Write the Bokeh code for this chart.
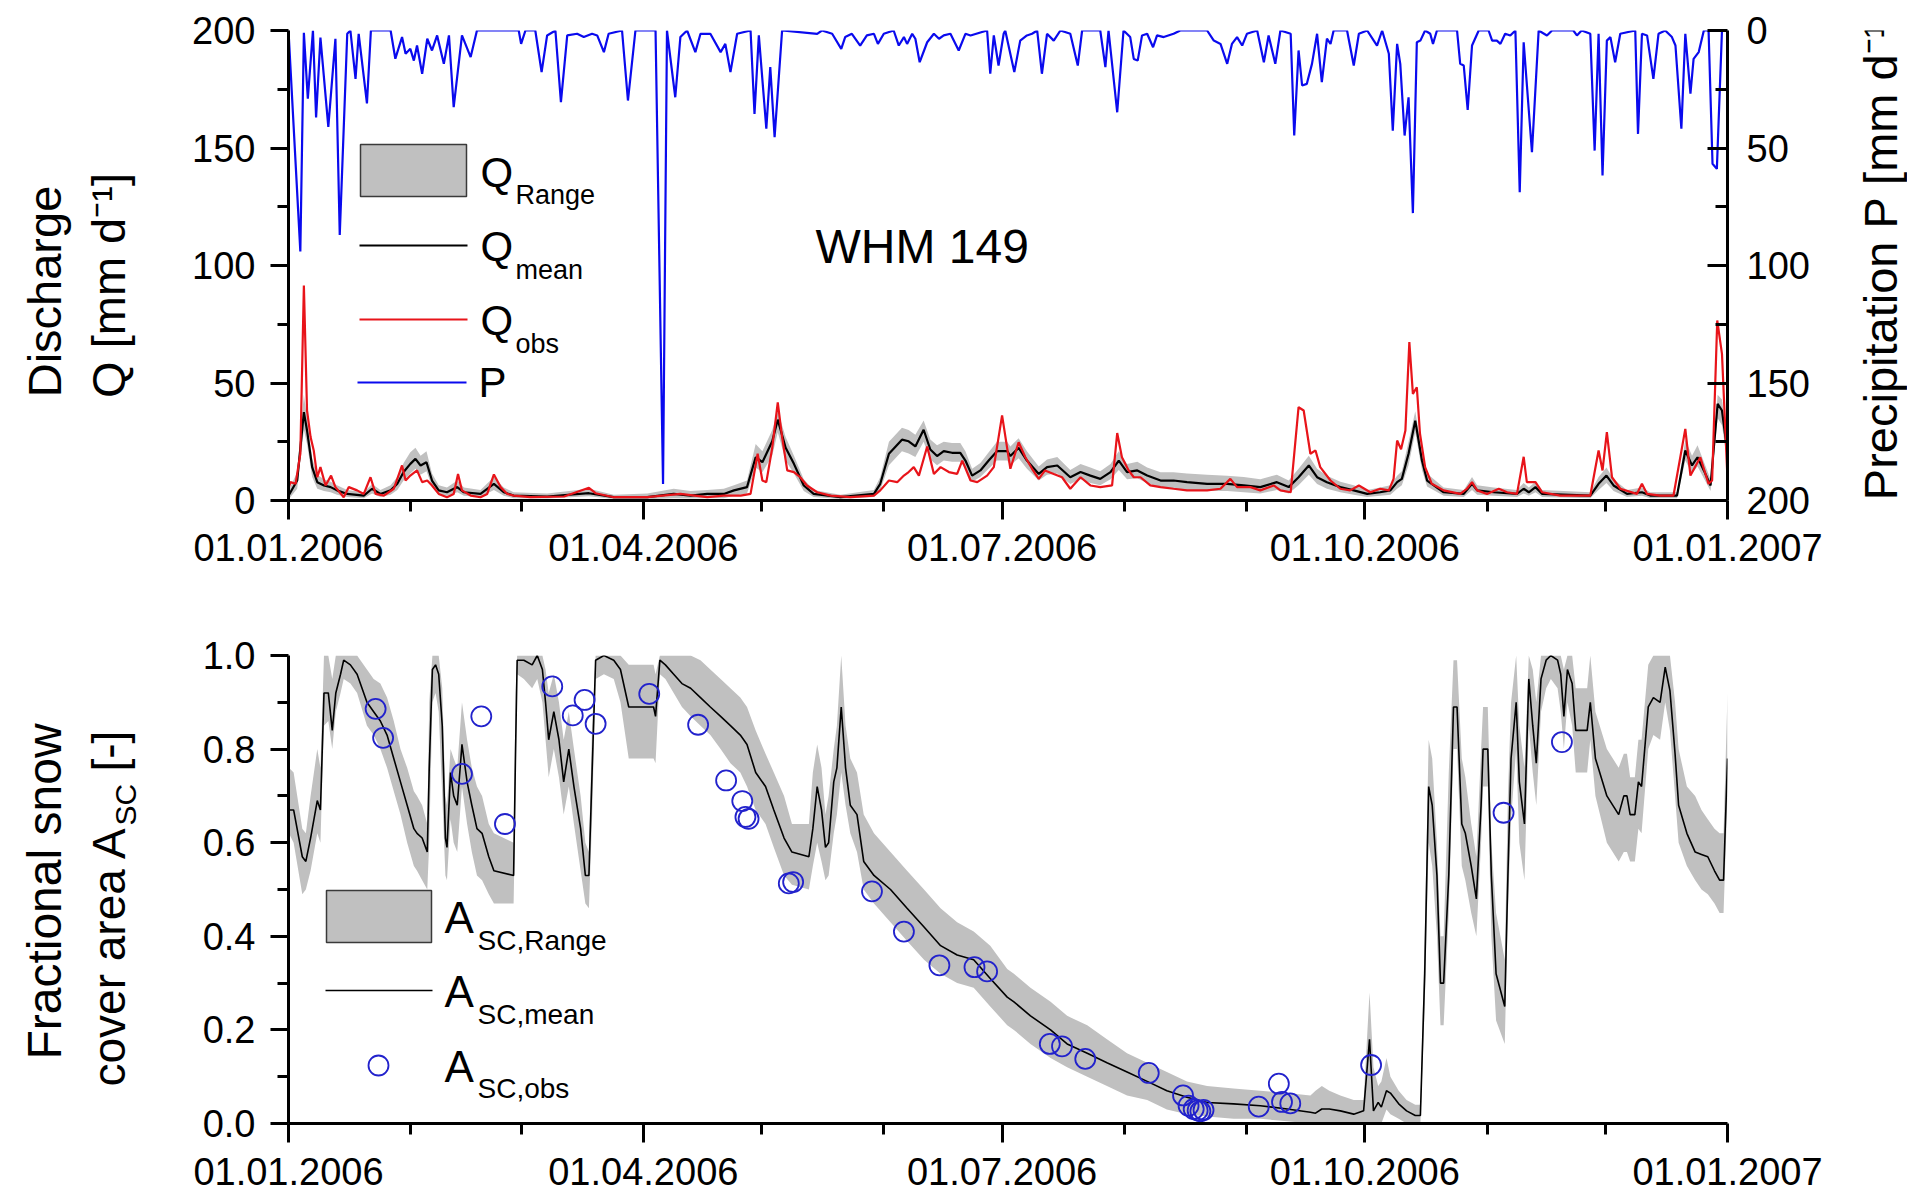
import math
from bokeh.plotting import figure
from bokeh.models import Range1d, LinearAxis, FixedTicker, Label, PrintfTickFormatter
from bokeh.layouts import column, row
from bokeh.embed import file_html
from bokeh.resources import INLINE

FONT = "Liberation Sans"

# ---------------- data (day of year 2006, 0 = 01.01.2006) ----------------
tick_days = [0, 90, 181, 273, 365]
tick_labels = ["01.01.2006", "01.04.2006", "01.07.2006", "01.10.2006", "01.01.2007"]
month_days = [31, 59, 120, 151, 212, 243, 304, 334]

# Precipitation P [mm/d]
p_days = [0.0, 3.0, 3.9, 4.9, 6.2, 7.0, 8.1, 10.1, 11.9, 13.0,
          14.9, 15.7, 17.0, 17.8, 19.9, 20.9, 25.9, 27.1, 28.8, 29.7,
          30.9, 31.8, 32.6, 33.9, 35.2, 36.4, 37.7, 39.4, 40.7, 41.9,
          44.0, 46.2, 47.8, 58.4, 59.0, 60.1, 62.6, 64.2, 65.6, 67.7,
          69.1, 70.7, 73.2, 74.9, 77.0, 78.3, 80.0, 81.2, 84.6, 86.1,
          88.0, 93.1, 95.0, 96.0, 98.1, 99.4, 101.1, 103.2, 104.5, 107.0,
          109.6, 110.8, 112.1, 113.8, 117.2, 118.2, 119.3, 121.2, 122.2, 123.3,
          125.2, 134.1, 135.3, 137.9, 140.2, 141.2, 142.9, 145.0, 146.7, 148.5,
          149.5, 151.0, 153.5, 154.8, 156.1, 156.9, 158.2, 159.0, 160.1, 162.0,
          163.7, 165.0, 166.2, 167.9, 170.0, 171.7, 173.0, 177.2, 178.0, 178.9,
          180.1, 181.4, 181.8, 184.1, 185.6, 187.3, 188.6, 189.9, 191.1, 192.4,
          194.1, 195.8, 198.3, 200.2, 201.3, 205.9, 207.2, 208.0, 210.2, 211.8,
          213.5, 214.4, 215.4, 216.5, 217.8, 219.3, 220.3, 222.0, 224.5, 226.2,
          233.0, 234.7, 236.4, 238.1, 239.3, 240.6, 241.9, 243.1, 245.7, 247.4,
          248.6, 250.3, 251.6, 254.2, 255.1, 256.2, 257.1, 258.3, 259.6, 260.9,
          262.1, 263.4, 264.3, 265.1, 268.5, 270.2, 271.5, 273.6, 276.1, 277.4,
          279.1, 280.1, 281.2, 282.0, 283.1, 284.1, 285.2, 286.2, 287.1, 288.3,
          289.6, 290.3, 291.3, 296.4, 297.2, 298.1, 299.1, 300.2, 301.9, 304.4,
          305.3, 306.5, 307.4, 308.6, 309.9, 311.2, 312.3, 313.3, 315.4, 317.1,
          319.2, 320.5, 325.9, 326.8, 328.0, 330.2, 331.3, 332.3, 333.3, 334.4,
          335.3, 336.5, 337.8, 341.6, 342.3, 343.3, 344.6, 346.2, 347.5, 349.2,
          350.9, 351.8, 353.3, 354.3, 355.6, 356.4, 357.7, 359.0, 360.2, 361.2,
          362.3, 363.6, 365.0]
p_vals = [0, 94, 1, 29, 0, 37, 3, 41, 3.5, 87,
          1.4, 0, 20.6, 1.4, 31, 0, 0, 12, 2.8, 9.9,
          7.8, 12.8, 6.4, 18.4, 3.5, 8.5, 2.1, 14.2, 2.1, 32.6,
          2.1, 11.3, 0, 0, 5.7, 0, 0, 17.7, 2.1, 0,
          30.5, 2.1, 1.4, 2.8, 1.4, 2.1, 9.2, 1.4, 0, 29.8,
          0, 0, 193, 0, 28.4, 2.8, 0, 9.2, 1.4, 1.4,
          9.2, 5.7, 17.7, 1.4, 0, 35.5, 2.1, 41.8, 15.6, 45.4,
          0, 1.4, 0, 1.4, 7.8, 2.8, 1.4, 6.4, 2.1, 1.4,
          5.7, 1.4, 0, 6.4, 2.8, 5.7, 1.4, 3.5, 13.5, 5.0,
          1.4, 3.5, 2.1, 1.4, 8.5, 1.4, 2.1, 0, 18.4, 2.1,
          14.9, 1.4, 0, 17.7, 4.3, 2.1, 1.4, 0, 18.4, 1.4,
          4.3, 0, 1.4, 14.9, 0, 0, 15.6, 0, 34.8, 0,
          2.8, 12.1, 12.8, 2.1, 1.4, 7.1, 2.1, 2.8, 1.4, 0,
          0, 4.3, 5.7, 14.2, 5.7, 2.8, 6.4, 1.4, 0, 13.5,
          2.1, 14.2, 0, 1.4, 44.7, 8.5, 23.4, 22.7, 14.2, 1.4,
          22.0, 3.5, 5.7, 0, 0, 14.9, 1.4, 0, 6.4, 0,
          9.9, 42.6, 5.7, 14.2, 44.7, 28.4, 77.7, 5.0, 4.3, 0,
          1.4, 5.7, 0, 0, 14.2, 14.9, 33.8, 6.4, 0, 0,
          4.3, 4.3, 5.7, 1.4, 2.1, 0, 68.8, 5.0, 51.8, 0,
          2.1, 0, 0, 2.1, 0, 1.4, 51.1, 1.4, 61.7, 4.3,
          2.8, 13.5, 1.4, 0, 44.0, 1.4, 2.1, 20.6, 1.4, 0,
          2.8, 6.4, 41.8, 1.4, 26.9, 12.1, 9.2, 0, 0, 56.7,
          58.9, 0, 0]

# Simulated discharge: mean and range [mm/d]
q_days = [0.0, 0.5, 2.2, 3.9, 4.7, 6.0, 7.3, 9.0, 10.7, 12.3,
          14.9, 19.1, 21.2, 23.3, 25.9, 27.6, 29.2, 30.9, 32.2, 33.5,
          35.0, 36.4, 38.1, 40.2, 42.8, 44.5, 48.7, 52.1, 54.6, 57.1,
          65.6, 76.2, 82.5, 91.0, 97.7, 102.0, 106.2, 110.4, 113.0, 116.3,
          118.5, 120.2, 122.7, 124.1, 126.1, 128.2, 130.7, 133.2, 140.0, 148.5,
          150.1, 152.3, 155.6, 157.3, 159.0, 161.1, 162.8, 164.5, 166.2, 168.3,
          170.4, 171.7, 173.4, 175.5, 177.6, 179.7, 182.3, 183.1, 185.2, 187.3,
          190.3, 192.4, 195.0, 198.3, 200.9, 203.4, 205.9, 208.5, 210.6, 212.7,
          215.3, 217.8, 221.2, 224.5, 227.9, 233.0, 238.1, 242.3, 246.5, 250.7,
          253.7, 256.2, 258.8, 260.9, 263.4, 266.8, 270.2, 273.6, 276.9, 279.5,
          281.2, 282.4, 284.1, 285.8, 287.5, 288.8, 293.0, 298.1, 300.2, 301.5,
          305.7, 311.6, 313.3, 314.6, 316.3, 318.0, 330.2, 332.3, 334.3, 336.1,
          339.5, 343.3, 345.4, 352.2, 354.3, 356.0, 357.4, 359.0, 360.7, 362.5,
          363.6, 364.9]
q_mean = [2.0, 3.5, 8.5, 37.6, 29.8, 14.2, 7.8, 6.4, 5.7, 4.3,
          2.8, 2.1, 5.0, 2.8, 4.3, 7.1, 12.1, 15.6, 17.7, 14.9,
          16.3, 8.5, 4.3, 3.5, 5.7, 3.5, 2.8, 7.1, 3.5, 2.1,
          1.7, 3.1, 1.4, 1.4, 2.8, 2.1, 2.8, 2.8, 4.3, 5.7,
          18.4, 16.3, 25.2, 34.4, 22.4, 15.6, 6.4, 2.8, 1.4, 2.8,
          7.1, 19.9, 25.9, 25.2, 23.0, 30.1, 21.7, 18.9, 21.0, 20.3,
          20.3, 17.0, 10.6, 12.8, 17.0, 21.0, 21.0, 18.9, 22.4, 17.0,
          11.3, 14.2, 14.9, 9.9, 12.1, 10.6, 9.2, 12.1, 17.0, 12.1,
          12.8, 10.6, 8.5, 8.5, 7.8, 7.1, 7.1, 6.4, 5.7, 7.8,
          5.7, 9.9, 14.9, 9.9, 7.8, 5.7, 4.3, 2.8, 3.5, 4.3,
          7.8, 9.2, 19.9, 34.0, 17.0, 8.5, 3.5, 2.8, 7.1, 4.3,
          3.5, 2.8, 5.0, 3.5, 5.7, 2.8, 2.1, 7.1, 10.6, 6.4,
          2.8, 3.5, 2.1, 2.1, 21.3, 14.9, 18.4, 12.8, 6.4, 41.1,
          38.3, 21.3]
q_lo = [0.5, 1.5, 5.0, 30.0, 24.0, 10.0, 5.0, 4.0, 3.5, 2.5,
        1.5, 1.0, 3.0, 1.5, 2.5, 4.5, 8.5, 11.5, 13.5, 11.0,
        12.5, 6.0, 2.5, 2.0, 3.5, 2.0, 1.5, 4.5, 2.0, 1.0,
        0.8, 1.8, 0.6, 0.5, 1.0, 0.8, 1.0, 1.0, 2.0, 3.0,
        14.0, 12.0, 19.0, 29.0, 17.0, 11.5, 4.0, 1.5, 0.6, 1.5,
        4.5, 15.0, 21.0, 20.0, 18.5, 25.0, 17.5, 15.0, 17.0, 16.5,
        16.5, 13.5, 8.0, 10.0, 13.5, 17.0, 17.0, 15.0, 18.0, 13.5,
        8.5, 11.0, 11.5, 7.0, 9.0, 7.5, 6.5, 9.0, 13.0, 9.0,
        9.5, 7.5, 5.5, 5.0, 4.5, 4.0, 4.0, 3.5, 3.0, 4.5,
        3.0, 6.5, 11.0, 7.0, 5.0, 3.5, 2.5, 1.5, 2.0, 2.5,
        5.0, 6.5, 15.0, 29.0, 13.0, 6.0, 2.0, 1.5, 4.5, 2.5,
        2.0, 1.5, 3.0, 2.0, 3.5, 1.5, 1.0, 4.5, 7.5, 4.0,
        1.5, 2.0, 1.0, 1.0, 17.0, 11.5, 14.5, 9.5, 4.0, 35.0,
        32.0, 17.0]
q_hi = [4.0, 6.0, 12.0, 45.0, 35.0, 18.0, 11.0, 9.0, 8.0, 6.5,
        4.5, 3.5, 7.0, 4.5, 6.5, 10.0, 16.0, 20.5, 22.5, 19.0,
        21.0, 11.5, 6.5, 5.5, 8.5, 5.5, 4.5, 10.0, 5.5, 3.5,
        3.0, 5.0, 2.5, 3.0, 5.0, 4.0, 4.5, 5.0, 6.5, 8.5,
        24.0, 21.0, 30.0, 38.0, 27.0, 19.0, 9.0, 4.5, 2.5, 4.5,
        10.0, 25.0, 31.0, 30.0, 28.0, 34.0, 26.0, 23.5, 25.0, 24.5,
        24.5, 21.0, 13.5, 16.0, 20.5, 25.0, 25.0, 23.0, 26.5, 21.0,
        14.5, 17.5, 18.5, 13.0, 15.5, 14.0, 12.5, 15.5, 21.0, 15.5,
        16.5, 14.0, 12.0, 12.0, 11.5, 11.0, 10.5, 10.0, 9.0, 11.0,
        8.5, 13.5, 19.0, 13.5, 10.5, 8.0, 6.5, 4.5, 5.5, 6.5,
        10.5, 12.5, 25.0, 38.0, 21.0, 11.5, 5.5, 4.5, 10.0, 6.5,
        5.5, 4.5, 7.5, 5.5, 8.0, 4.5, 3.5, 10.0, 14.0, 9.0,
        4.5, 5.5, 3.5, 3.5, 26.0, 19.0, 23.5, 16.5, 9.0, 45.0,
        43.0, 26.0]

# Observed discharge [mm/d]
qobs_days = [0.0, 0.5, 1.8, 3.0, 3.9, 4.7, 5.6, 6.4, 7.3, 8.1,
             9.4, 10.8, 11.9, 14.0, 15.3, 17.4, 19.1, 20.8, 22.1, 24.2,
             26.7, 28.8, 29.7, 30.9, 32.6, 33.9, 35.2, 36.4, 38.1, 40.2,
             41.9, 43.0, 44.0, 46.2, 48.7, 50.4, 52.1, 53.8, 55.5, 57.1,
             61.4, 69.9, 76.2, 77.9, 82.5, 91.0, 99.4, 106.2, 110.4, 114.7,
             117.2, 119.0, 120.2, 121.2, 122.7, 124.1, 125.2, 126.5, 128.2, 129.8,
             131.5, 134.1, 137.5, 142.5, 148.5, 150.1, 152.3, 154.4, 156.1, 157.3,
             158.6, 159.9, 162.0, 163.7, 165.4, 167.5, 169.6, 170.9, 173.0, 174.7,
             177.2, 178.9, 181.0, 183.1, 185.2, 186.9, 188.6, 190.3, 191.9, 194.1,
             196.2, 198.3, 200.9, 203.4, 205.9, 208.9, 210.2, 211.4, 213.1, 214.4,
             216.1, 218.6, 221.2, 224.5, 227.9, 233.0, 236.4, 238.9, 240.6, 244.0,
             246.5, 249.9, 251.6, 254.2, 256.2, 257.5, 259.2, 260.5, 261.7, 264.3,
             266.8, 269.3, 271.5, 274.4, 276.9, 279.1, 280.3, 281.2, 282.2, 283.3,
             284.3, 285.2, 286.2, 287.0, 288.3, 290.0, 293.0, 297.2, 298.9, 300.2,
             301.5, 304.0, 307.0, 309.1, 311.6, 313.3, 314.1, 316.3, 318.0, 322.6,
             330.2, 332.3, 333.3, 334.4, 335.7, 337.8, 342.0, 343.3, 344.6, 347.9,
             351.3, 354.3, 355.6, 358.1, 360.2, 361.1, 362.4, 363.6, 364.9]
qobs = [5.0, 7.8, 7.1, 19.9, 91.5, 38.3, 27.0, 21.3, 9.9, 14.2,
        6.4, 10.6, 5.7, 1.4, 5.7, 4.3, 2.8, 9.9, 2.8, 2.1,
        5.0, 14.9, 8.5, 10.6, 12.8, 7.8, 8.5, 6.4, 2.8, 1.4,
        2.8, 11.3, 4.3, 2.1, 1.4, 2.8, 11.1, 5.7, 2.8, 2.1,
        1.4, 1.7, 5.4, 3.1, 1.4, 1.4, 2.8, 1.4, 2.1, 2.1,
        2.8, 19.9, 8.5, 7.8, 22.4, 41.8, 27.0, 12.8, 12.1, 9.9,
        6.4, 3.5, 2.1, 1.4, 2.1, 4.3, 8.5, 7.8, 10.6, 12.1,
        14.2, 10.6, 23.0, 11.3, 14.2, 12.1, 11.3, 17.0, 8.5, 7.8,
        10.6, 14.2, 36.2, 13.5, 24.8, 18.4, 13.5, 9.2, 12.8, 11.3,
        9.9, 5.0, 9.9, 6.4, 5.7, 6.4, 28.7, 18.4, 12.8, 9.9,
        9.9, 6.4, 5.7, 5.0, 4.3, 4.3, 5.0, 9.2, 5.7, 5.7,
        4.3, 6.4, 4.3, 3.5, 39.7, 38.3, 19.9, 21.3, 14.2, 8.5,
        5.0, 4.3, 6.4, 3.5, 5.0, 4.3, 9.2, 25.5, 21.8, 29.8,
        67.4, 45.4, 48.2, 28.4, 14.2, 7.1, 4.3, 2.8, 5.0, 7.8,
        4.3, 2.8, 5.0, 3.5, 2.8, 18.6, 7.8, 7.8, 3.5, 2.1,
        2.1, 21.3, 12.8, 29.1, 9.9, 5.0, 2.8, 7.1, 2.8, 2.1,
        2.1, 30.5, 10.6, 18.4, 7.1, 8.5, 76.6, 62.4, 12.8]

# Fractional snow cover area: simulated mean and range [-]
a_days = [0.1, 1.3, 3.5, 4.4, 5.6, 7.3, 8.1, 9.0, 10.1, 11.1,
          12.0, 13.2, 14.0, 15.7, 17.4, 19.9, 21.6, 23.3, 25.0, 26.7,
          28.4, 30.1, 31.8, 32.6, 33.9, 35.2, 35.7, 36.5, 37.3, 38.1,
          39.0, 39.8, 40.2, 41.1, 41.9, 42.8, 44.0, 45.3, 46.5, 47.8,
          49.1, 50.8, 52.1, 57.1, 57.6, 58.0, 59.7, 61.8, 63.1, 64.4,
          65.2, 66.0, 67.3, 68.6, 69.8, 71.1, 72.4, 74.1, 75.3, 76.2,
          77.0, 77.9, 80.0, 82.5, 84.2, 86.3, 91.0, 92.6, 93.1, 94.2,
          95.6, 97.7, 99.8, 102.0, 104.5, 107.0, 109.6, 112.1, 114.6, 116.3,
          118.5, 121.0, 123.1, 125.7, 127.7, 132.0, 133.0, 134.1, 135.2, 136.2,
          137.0, 138.3, 139.1, 140.2, 141.3, 142.5, 144.2, 145.9, 148.5, 152.7,
          156.9, 161.2, 165.4, 169.6, 173.8, 178.0, 182.3, 184.0, 188.2, 193.3,
          197.5, 202.6, 207.6, 212.7, 217.8, 222.8, 227.9, 233.0, 239.7, 246.5,
          253.3, 259.2, 260.5, 262.1, 264.0, 266.8, 270.2, 272.7, 274.2, 275.2,
          276.4, 277.2, 278.5, 279.5, 281.6, 283.6, 285.8, 287.1, 288.2, 289.2,
          290.1, 291.3, 292.2, 293.0, 294.3, 295.5, 296.4, 297.6, 298.5, 300.0,
          301.3, 302.5, 303.0, 304.2, 305.1, 306.3, 308.5, 309.3, 310.1, 311.4,
          312.2, 313.5, 314.6, 315.6, 316.5, 317.7, 319.0, 320.2, 321.9, 322.7,
          323.5, 324.4, 325.6, 326.5, 329.4, 330.2, 331.5, 334.4, 337.4, 338.7,
          339.5, 340.3, 341.5, 342.4, 343.2, 344.9, 346.2, 347.9, 349.2, 350.4,
          351.7, 352.6, 354.7, 356.8, 358.4, 360.0, 361.7, 363.0, 364.0, 365.0]
a_mean = [0.67, 0.67, 0.57, 0.56, 0.61, 0.69, 0.67, 0.92, 0.92, 0.84,
          0.92, 0.96, 0.99, 0.98, 0.96, 0.90, 0.88, 0.86, 0.83, 0.78,
          0.73, 0.68, 0.63, 0.62, 0.61, 0.58, 0.76, 0.97, 0.98, 0.96,
          0.85, 0.61, 0.59, 0.75, 0.70, 0.68, 0.81, 0.73, 0.68, 0.63,
          0.62, 0.57, 0.54, 0.53, 0.80, 0.99, 0.99, 0.98, 1.00, 0.97,
          0.90, 0.82, 0.88, 0.82, 0.73, 0.80, 0.72, 0.63, 0.53, 0.53,
          0.75, 0.99, 1.00, 0.99, 0.97, 0.89, 0.89, 0.89, 0.87, 0.99,
          0.98, 0.96, 0.94, 0.93, 0.91, 0.89, 0.87, 0.85, 0.83, 0.81,
          0.75, 0.72, 0.67, 0.61, 0.58, 0.57, 0.63, 0.72, 0.67, 0.59,
          0.60, 0.73, 0.76, 0.89, 0.76, 0.68, 0.66, 0.56, 0.53, 0.50,
          0.46, 0.42, 0.38, 0.36, 0.35, 0.31, 0.27, 0.26, 0.23, 0.20,
          0.17, 0.15, 0.13, 0.11, 0.09, 0.07, 0.056, 0.045, 0.042, 0.038,
          0.031, 0.024, 0.022, 0.031, 0.031, 0.027, 0.020, 0.027, 0.18, 0.027,
          0.045, 0.035, 0.070, 0.065, 0.042, 0.027, 0.017, 0.017, 0.32, 0.72,
          0.68, 0.53, 0.30, 0.30, 0.53, 0.89, 0.89, 0.64, 0.62, 0.55,
          0.48, 0.68, 0.80, 0.80, 0.53, 0.32, 0.25, 0.53, 0.78, 0.90,
          0.73, 0.64, 0.95, 0.85, 0.77, 0.95, 0.99, 1.00, 0.99, 0.96,
          0.87, 0.97, 0.94, 0.84, 0.84, 0.90, 0.78, 0.70, 0.66, 0.70,
          0.70, 0.66, 0.66, 0.73, 0.72, 0.89, 0.91, 0.90, 0.975, 0.925,
          0.79, 0.68, 0.62, 0.58, 0.575, 0.57, 0.54, 0.52, 0.52, 0.78]
a_lo = [0.62, 0.60, 0.49, 0.50, 0.54, 0.62, 0.60, 0.85, 0.86, 0.80,
        0.88, 0.92, 0.95, 0.94, 0.92, 0.85, 0.83, 0.80, 0.76, 0.71,
        0.66, 0.60, 0.55, 0.54, 0.52, 0.50, 0.60, 0.90, 0.92, 0.88,
        0.70, 0.53, 0.52, 0.65, 0.60, 0.58, 0.72, 0.64, 0.58, 0.53,
        0.52, 0.49, 0.47, 0.47, 0.70, 0.96, 0.95, 0.93, 0.95, 0.90,
        0.82, 0.74, 0.80, 0.74, 0.66, 0.72, 0.64, 0.54, 0.47, 0.46,
        0.65, 0.95, 0.96, 0.95, 0.90, 0.78, 0.78, 0.78, 0.77, 0.96,
        0.95, 0.92, 0.89, 0.87, 0.85, 0.83, 0.80, 0.77, 0.75, 0.72,
        0.67, 0.64, 0.59, 0.53, 0.51, 0.50, 0.55, 0.60, 0.56, 0.52,
        0.53, 0.62, 0.66, 0.75, 0.68, 0.62, 0.58, 0.50, 0.47, 0.43,
        0.39, 0.35, 0.32, 0.30, 0.29, 0.25, 0.21, 0.20, 0.17, 0.14,
        0.12, 0.10, 0.08, 0.06, 0.05, 0.03, 0.02, 0.015, 0.01, 0.01,
        0.005, 0.0, 0.0, 0.0, 0.0, 0.0, 0.0, 0.0, 0.0, 0.0,
        0.0, 0.0, 0.03, 0.02, 0.01, 0.0, 0.0, 0.0, 0.25, 0.60,
        0.55, 0.40, 0.21, 0.21, 0.45, 0.80, 0.80, 0.55, 0.52, 0.45,
        0.40, 0.60, 0.72, 0.72, 0.40, 0.22, 0.17, 0.45, 0.65, 0.80,
        0.60, 0.52, 0.85, 0.75, 0.68, 0.88, 0.93, 0.95, 0.93, 0.88,
        0.80, 0.90, 0.85, 0.75, 0.75, 0.82, 0.70, 0.60, 0.56, 0.58,
        0.58, 0.56, 0.56, 0.63, 0.62, 0.80, 0.83, 0.82, 0.90, 0.84,
        0.70, 0.60, 0.55, 0.52, 0.50, 0.49, 0.47, 0.45, 0.45, 0.70]
a_hi = [0.76, 0.75, 0.63, 0.62, 0.70, 0.80, 0.76, 1.0, 1.0, 0.95,
        1.0, 1.0, 1.0, 1.0, 1.0, 0.97, 0.95, 0.94, 0.91, 0.86,
        0.80, 0.76, 0.71, 0.70, 0.68, 0.64, 0.90, 1.0, 1.0, 1.0,
        0.93, 0.70, 0.68, 0.80, 0.78, 0.76, 0.90, 0.82, 0.76, 0.72,
        0.70, 0.64, 0.62, 0.60, 0.92, 1.0, 1.0, 1.0, 1.0, 1.0,
        0.97, 0.92, 0.96, 0.90, 0.82, 0.88, 0.80, 0.70, 0.60, 0.58,
        0.85, 1.0, 1.0, 1.0, 1.0, 0.98, 0.98, 0.98, 0.96, 1.0,
        1.0, 1.0, 1.0, 1.0, 0.99, 0.97, 0.95, 0.93, 0.91, 0.89,
        0.84, 0.79, 0.75, 0.70, 0.64, 0.64, 0.75, 0.81, 0.76, 0.66,
        0.70, 0.80, 0.85, 1.0, 0.85, 0.78, 0.75, 0.66, 0.62, 0.58,
        0.54, 0.50, 0.46, 0.43, 0.41, 0.38, 0.33, 0.32, 0.29, 0.26,
        0.23, 0.21, 0.18, 0.15, 0.13, 0.11, 0.09, 0.08, 0.075, 0.07,
        0.065, 0.06, 0.07, 0.08, 0.07, 0.06, 0.05, 0.05, 0.28, 0.12,
        0.08, 0.09, 0.14, 0.10, 0.07, 0.05, 0.04, 0.04, 0.40, 0.82,
        0.78, 0.60, 0.40, 0.40, 0.75, 0.99, 0.99, 0.78, 0.74, 0.64,
        0.57, 0.80, 0.89, 0.89, 0.60, 0.45, 0.35, 0.70, 0.90, 1.0,
        0.85, 0.76, 1.0, 0.97, 0.90, 1.0, 1.0, 1.0, 1.0, 1.0,
        0.97, 1.0, 1.0, 0.93, 0.93, 1.0, 0.88, 0.80, 0.76, 0.79,
        0.79, 0.74, 0.74, 0.82, 0.82, 0.98, 1.0, 1.0, 1.0, 1.0,
        0.90, 0.80, 0.72, 0.70, 0.67, 0.65, 0.63, 0.62, 0.62, 0.92]

# Observed fractional snow cover [-]
aobs_days = [22.1, 24.0, 44.0, 48.9, 54.9, 66.9, 72.1, 75.1, 77.9, 91.5,
             103.9, 111.0, 115.1, 115.9, 116.7, 126.9, 128.0, 148.0, 156.1, 165.1,
             174.0, 177.2, 193.1, 196.2, 202.1, 218.2, 226.9, 228.3, 229.6, 230.6,
             231.3, 232.1, 246.1, 251.2, 252.0, 254.1, 274.6, 308.2, 323.0]
aobs = [0.886, 0.824, 0.747, 0.870, 0.640, 0.934, 0.872, 0.905, 0.854, 0.918,
        0.852, 0.733, 0.689, 0.655, 0.651, 0.513, 0.516, 0.496, 0.410, 0.338,
        0.334, 0.325, 0.170, 0.165, 0.138, 0.108, 0.060, 0.038, 0.031, 0.028,
        0.026, 0.029, 0.036, 0.085, 0.046, 0.043, 0.125, 0.664, 0.815]

# ---------------- styling ----------------
BLUE = "#0a0aee"
RED = "#e8141a"
GRAY = "#c0c0c0"
CIRC = "#2222cc"
TICK_FS = "38px"
AX_W = 3
LEFT_W = 150     # width of the left title strip
RIGHT_W = 60     # width of the right title strip (top row)


def style_axis(ax, out_major, out_minor, in_major=0, in_minor=0, standoff=12):
    ax.axis_line_width = AX_W
    ax.axis_line_color = "black"
    ax.major_tick_line_width = AX_W
    ax.minor_tick_line_width = AX_W
    ax.major_tick_out = out_major
    ax.minor_tick_out = out_minor
    ax.major_tick_in = in_major
    ax.minor_tick_in = in_minor
    ax.major_label_text_font = FONT
    ax.major_label_text_font_size = TICK_FS
    ax.major_label_text_color = "black"
    ax.major_label_standoff = standoff


def xaxis_setup(p, standoff):
    ax = p.xaxis[0]
    ax.ticker = FixedTicker(ticks=tick_days, minor_ticks=month_days)
    ax.major_label_overrides = {d: s for d, s in zip(tick_days, tick_labels)}
    style_axis(ax, 19, 11, standoff=standoff)


def txt(p, x, y, s, size, angle=0.0, align="left", rng=True):
    kw = dict(x_range_name="px", y_range_name="py") if rng else {}
    p.add_layout(Label(x=x, y=y, text=s, text_font=FONT, text_font_size=size,
                       text_color="black", text_align=align, text_baseline="middle",
                       angle=angle, **kw))


def strip(width, height, x0, fy_top, fy_bot):
    """Blank figure for axis titles; its frame is aligned with the neighbouring
    plot frame (fy_top..fy_bot in page pixels), so data units equal page pixels."""
    f = figure(width=width, height=height, x_range=Range1d(x0, x0 + width),
               y_range=Range1d(fy_bot, fy_top), output_backend="svg",
               toolbar_location=None, x_axis_location=None, y_axis_location=None,
               min_border=0, min_border_left=0, min_border_right=0,
               min_border_top=0, min_border_bottom=0)
    f.outline_line_color = None
    f.grid.visible = False
    f.background_fill_color = "white"
    f.border_fill_color = "white"
    return f


VERT = math.pi / 2

# ---------------- top panel: discharge and precipitation ----------------
p1 = figure(width=1907 - LEFT_W - RIGHT_W, height=600, x_range=Range1d(0, 365),
            y_range=Range1d(0, 200), output_backend="svg", toolbar_location=None,
            min_border_left=288 - LEFT_W, min_border_right=1907 - RIGHT_W - 1727,
            min_border_top=30, min_border_bottom=100)
p1.outline_line_color = None
p1.grid.visible = False
p1.background_fill_color = "white"
p1.border_fill_color = "white"
p1.extra_x_ranges = {"px": Range1d(288, 1727)}
p1.extra_y_ranges = {"p": Range1d(200, 0), "py": Range1d(500, 30)}

xaxis_setup(p1, 14)
ly = p1.yaxis[0]
ly.ticker = FixedTicker(ticks=[0, 50, 100, 150, 200], minor_ticks=[25, 75, 125, 175])
style_axis(ly, 18, 11, standoff=15)

ry = LinearAxis(y_range_name="p",
                ticker=FixedTicker(ticks=[0, 50, 100, 150, 200], minor_ticks=[25, 75, 125, 175]))
style_axis(ry, 0, 0, in_major=20, in_minor=12, standoff=19)
p1.add_layout(ry, "right")

p1.varea(x=q_days, y1=q_lo, y2=q_hi, fill_color=GRAY, fill_alpha=1.0)
p1.line(q_days, q_mean, line_color="black", line_width=2.2)
p1.line(qobs_days, qobs, line_color=RED, line_width=2.2)
p1.line(p_days, p_vals, line_color=BLUE, line_width=2.2, y_range_name="p")

# legend (pixel layout)
p1.quad(left=[360], right=[466], top=[144], bottom=[196], fill_color=GRAY,
        line_color="#3a3a3a", line_width=1.5, x_range_name="px", y_range_name="py")
p1.line([359, 467], [245, 245], line_color="black", line_width=2.2, x_range_name="px", y_range_name="py")
p1.line([359, 467], [319, 319], line_color=RED, line_width=2.2, x_range_name="px", y_range_name="py")
p1.line([357, 466], [382, 382], line_color=BLUE, line_width=2.2, x_range_name="px", y_range_name="py")
txt(p1, 480, 172, "Q", "42px")
txt(p1, 515, 194, "Range", "27px")
txt(p1, 480, 246, "Q", "42px")
txt(p1, 515, 269, "mean", "27px")
txt(p1, 480, 320, "Q", "42px")
txt(p1, 515, 343, "obs", "27px")
txt(p1, 478, 382, "P", "42px")
txt(p1, 815, 246, "WHM 149", "48px")

# axis titles (side strips; frame spans page y 30..500 like p1)
l1 = strip(LEFT_W, 600, 0, 30, 500)
txt(l1, 44, 291, "Discharge", "47px", angle=VERT, align="center", rng=False)
txt(l1, 108, 285, "Q [mm d\u207b\u00b9]", "47px", angle=VERT, align="center", rng=False)
r1 = strip(RIGHT_W, 600, 1907 - RIGHT_W, 30, 500)
txt(r1, 1880, 254, "Precipitation P [mm d\u207b\u00b9]", "47px", angle=VERT, align="center", rng=False)

# ---------------- bottom panel: snow cover ----------------
p2 = figure(width=1907 - LEFT_W, height=597, x_range=Range1d(0, 365), y_range=Range1d(0, 1),
            output_backend="svg", toolbar_location=None,
            min_border_left=288 - LEFT_W, min_border_right=180,
            min_border_top=55, min_border_bottom=74)
p2.outline_line_color = None
p2.grid.visible = False
p2.background_fill_color = "white"
p2.border_fill_color = "white"
p2.extra_x_ranges = {"px": Range1d(288, 1727)}
p2.extra_y_ranges = {"py": Range1d(1123, 655)}

xaxis_setup(p2, 15)
ly2 = p2.yaxis[0]
ly2.ticker = FixedTicker(ticks=[0, 0.2, 0.4, 0.6, 0.8, 1.0], minor_ticks=[0.1, 0.3, 0.5, 0.7, 0.9])
ly2.formatter = PrintfTickFormatter(format="%.1f")
style_axis(ly2, 18, 11, standoff=15)

p2.varea(x=a_days, y1=a_lo, y2=a_hi, fill_color=GRAY, fill_alpha=1.0)
p2.line(a_days, a_mean, line_color="black", line_width=1.6)
p2.scatter(aobs_days, aobs, marker="circle", size=20, fill_color=None,
           line_color=CIRC, line_width=1.8)

# legend (pixel layout)
p2.quad(left=[326], right=[431], top=[890], bottom=[942], fill_color=GRAY,
        line_color="#3a3a3a", line_width=1.5, x_range_name="px", y_range_name="py")
p2.line([325, 432], [990, 990], line_color="black", line_width=1.6, x_range_name="px", y_range_name="py")
p2.scatter([378], [1065], marker="circle", size=20, fill_color=None, line_color=CIRC,
           line_width=1.8, x_range_name="px", y_range_name="py")
txt(p2, 444, 917, "A", "44px")
txt(p2, 477, 940, "SC,Range", "28px")
txt(p2, 444, 991, "A", "44px")
txt(p2, 477, 1014, "SC,mean", "28px")
txt(p2, 444, 1066, "A", "44px")
txt(p2, 477, 1088, "SC,obs", "28px")

l2 = strip(LEFT_W, 597, 0, 655, 1123)
txt(l2, 44, 891, "Fractional snow", "48px", angle=VERT, align="center", rng=False)
txt(l2, 108, 1086, "cover area A", "46px", angle=VERT, rng=False)
txt(l2, 125, 825, "SC", "30px", angle=VERT, rng=False)
txt(l2, 108, 771, "[-]", "46px", angle=VERT, rng=False)

layout = column(row(l1, p1, r1, spacing=0), row(l2, p2, spacing=0), spacing=0)
open("out.html", "w").write(file_html(layout, INLINE))
